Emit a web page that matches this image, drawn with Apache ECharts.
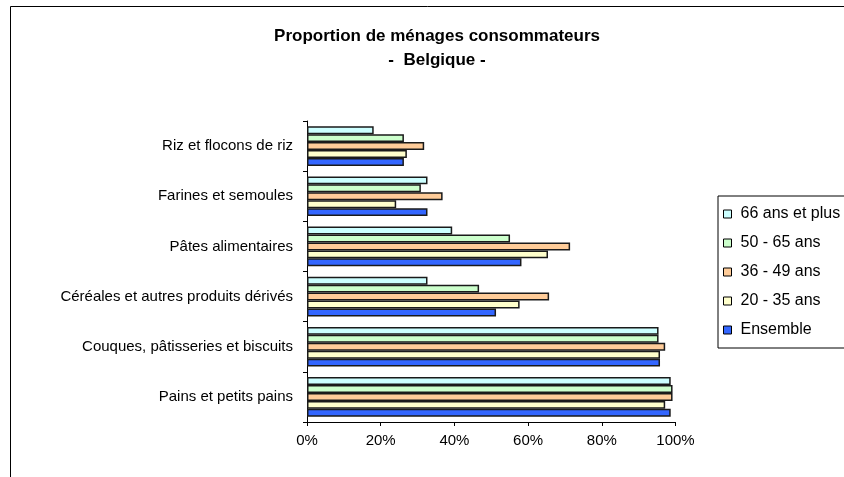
<!DOCTYPE html>
<html>
<head>
<meta charset="utf-8">
<script src="https://cdn.jsdelivr.net/npm/echarts@6/dist/echarts.min.js"></script>
<style>
  html, body { margin: 0; padding: 0; background: #fff; }
  #chart { width: 844px; height: 477px; }
</style>
</head>
<body>
<div id="chart"></div>
<script>
// Product categories, listed bottom to top along the vertical axis
const categories = [
  'Pains et petits pains',
  'Couques, pâtisseries et biscuits',
  'Céréales et autres produits dérivés',
  'Pâtes alimentaires',
  'Farines et semoules',
  'Riz et flocons de riz'
];

// Share of consuming households (%) per age group, same order as categories
const ans66Plus = [98.7, 95.4, 32.7, 39.4, 32.7, 18.1];
const ans50_65  = [99.2, 95.4, 46.7, 55.1, 30.9, 26.3];
const ans36_49  = [99.2, 97.2, 65.7, 71.4, 36.8, 31.8];
const ans20_35  = [97.2, 95.8, 57.7, 65.4, 24.2, 27.1];
const ensemble  = [98.7, 95.8, 51.3, 58.2, 32.7, 26.3];

const seriesNames = ['66 ans et plus', '50 - 65 ans', '36 - 49 ans', '20 - 35 ans', 'Ensemble'];
const seriesColors = ['#CCFFFF', '#CCFFCC', '#FFCC99', '#FFFFCC', '#3366FF'];
const seriesData = [ans66Plus, ans50_65, ans36_49, ans20_35, ensemble];

const xTicks = [0, 20, 40, 60, 80, 100];

const FONT = '"Liberation Sans", Arial, sans-serif';

const chart = echarts.init(document.getElementById('chart'), null, { renderer: 'canvas' });

chart.setOption({
  animation: false,
  backgroundColor: '#fff',
  textStyle: { fontFamily: FONT },
  title: {
    text: 'Proportion de ménages consommateurs\n-  Belgique -',
    left: 432,
    textAlign: 'center',
    top: 19,
    textStyle: {
      fontFamily: FONT,
      fontSize: 17,
      fontWeight: 'bold',
      color: '#000',
      lineHeight: 24
    }
  },
  graphic: [{
    type: 'rect',
    shape: { x: 10.5, y: 6.5, width: 900, height: 500 },
    style: { fill: 'none', stroke: '#000', lineWidth: 1 },
    silent: true,
    z: -1
  }],
  legend: {
    orient: 'vertical',
    left: 718,
    top: 196,
    itemWidth: 8,
    itemHeight: 8,
    itemGap: 13,
    padding: [10, 20, 10, 5],
    borderColor: '#000',
    borderWidth: 1,
    icon: 'rect',
    data: seriesNames,
    textStyle: { fontFamily: FONT, fontSize: 16, color: '#000', padding: [0, 0, 0, 4] },
    itemStyle: { borderColor: '#000', borderWidth: 1 }
  },
  grid: {
    left: 307,
    right: 168.5,
    top: 121,
    bottom: 55,
    containLabel: false
  },
  xAxis: {
    type: 'value',
    min: xTicks[0],
    max: xTicks[xTicks.length - 1],
    interval: 20,
    axisLine: { show: true, lineStyle: { color: '#000', width: 1 } },
    axisTick: { show: true, length: 4, lineStyle: { color: '#000' } },
    splitLine: { show: false },
    axisLabel: {
      formatter: '{value}%',
      fontFamily: FONT,
      fontSize: 15,
      color: '#000',
      margin: 11
    }
  },
  yAxis: {
    type: 'category',
    data: categories,
    axisLine: { show: true, lineStyle: { color: '#000', width: 1 } },
    axisTick: { show: true, length: 4, lineStyle: { color: '#000' } },
    axisLabel: {
      fontFamily: FONT,
      fontSize: 15,
      color: '#000',
      margin: 14
    }
  },
  series: seriesNames.map((name, i) => ({
    name: name,
    type: 'bar',
    data: seriesData[i],
    barGap: '0%',
    barCategoryGap: '21%',
    itemStyle: {
      color: seriesColors[i],
      borderColor: '#1a1a1a',
      borderWidth: 1.5
    }
  }))
});
</script>
</body>
</html>
